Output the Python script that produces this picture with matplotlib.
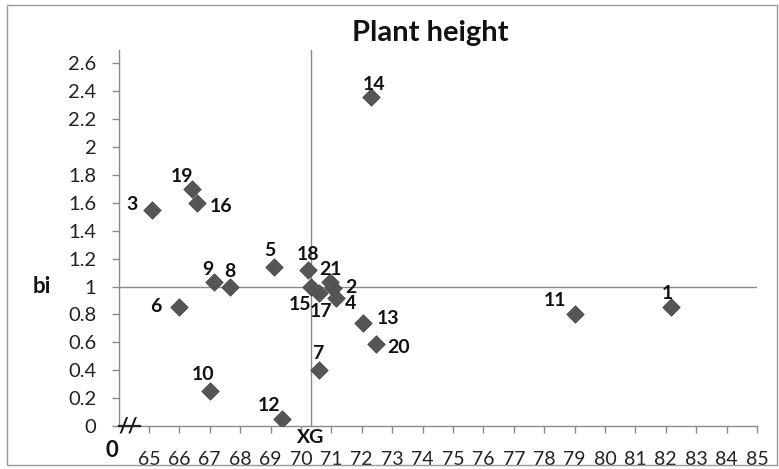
import matplotlib
matplotlib.use("Agg")
import matplotlib.pyplot as plt
from matplotlib.patches import Rectangle

plt.rcParams['font.family'] = ['Lato', 'DejaVu Sans']

# ---- data ----
genotypes = ["1", "2", "3", "4", "5", "6", "7", "8", "9", "10", "11",
             "12", "13", "14", "15", "16", "17", "18", "19", "20", "21"]
mean_height = [82.18, 71.05, 65.10, 71.16, 69.12, 66.00, 70.60, 67.66, 67.13, 67.00, 79.00,
               69.37, 72.04, 72.31, 70.32, 66.59, 70.60, 70.23, 66.42, 72.48, 70.94]
bi_values = [0.85, 0.99, 1.55, 0.92, 1.14, 0.85, 0.40, 1.00, 1.03, 0.25, 0.80,
             0.05, 0.74, 2.36, 1.00, 1.60, 0.95, 1.12, 1.70, 0.59, 1.03]
grand_mean = 70.33
bi_ref = 1.0
x_ticks = list(range(65, 86))
y_ticks = [0, 0.2, 0.4, 0.6, 0.8, 1, 1.2, 1.4, 1.6, 1.8, 2, 2.2, 2.4, 2.6]
y_tick_labels = ["0", "0.2", "0.4", "0.6", "0.8", "1", "1.2", "1.4", "1.6",
                 "1.8", "2", "2.2", "2.4", "2.6"]

# label offsets (points) relative to each marker
label_offsets = {
    "1": (-3, 10), "2": (9, 0), "3": (-10, 4), "4": (6, -4), "5": (-3, 12),
    "6": (-13, 1), "7": (-1, 12), "8": (0, 11), "9": (-4, 9), "10": (-5, 12),
    "11": (-14, 10), "12": (-9, 10), "13": (10, 3), "14": (2, 9), "15": (-8, -13),
    "16": (9, -3), "17": (1, -13), "18": (0, 11), "19": (-7, 9), "20": (8, -3),
    "21": (1, 9),
}
label_ha = {"2": "left", "4": "left", "13": "left", "16": "left", "20": "left",
            "3": "right", "6": "right"}

W, H = 779, 469
fig = plt.figure(figsize=(W / 100, H / 100), dpi=100)
ax = fig.add_axes([118.5 / W, 1 - 426 / H, (757 - 118.5) / W, (426 - 50) / H])

gray = "#8a8a8a"
ax.set_xlim(64, 85)
ax.set_ylim(0, (426 - 50) / 139.5)

ax.axvline(grand_mean, color=gray, lw=1.0, zorder=1)
ax.axhline(bi_ref, color=gray, lw=1.0, zorder=1)

ax.scatter(mean_height, bi_values, marker="D", s=80, color="#555555",
           edgecolors="#4a4a4a", linewidths=0.5, zorder=3)

for g, xv, yv in zip(genotypes, mean_height, bi_values):
    dx, dy = label_offsets[g]
    ax.annotate(g, (xv, yv), xytext=(dx, dy), textcoords="offset points",
                ha=label_ha.get(g, "center"), va="center",
                fontsize=14, fontweight="bold", color="#111111", zorder=4)

for s in ["top", "right"]:
    ax.spines[s].set_visible(False)
for s in ["left", "bottom"]:
    ax.spines[s].set_color(gray)
    ax.spines[s].set_linewidth(1.0)

ax.set_xticks(x_ticks)
ax.set_xticklabels([str(t) for t in x_ticks])
ax.set_yticks(y_ticks)
ax.set_yticklabels(y_tick_labels)
ax.tick_params(axis="x", direction="out", length=5, width=1, color=gray,
               labelsize=14, pad=13, labelcolor="#222222")
ax.tick_params(axis="y", direction="out", length=5, width=1, color=gray,
               labelsize=14.5, pad=11, labelcolor="#222222")

# axis annotations
ax.text(grand_mean, -0.025, "XG", ha="center", va="top", fontsize=14,
        fontweight="bold", color="#111111", transform=ax.transData, clip_on=False)
ax.plot([64.0, 64.7], [0, 0], color="#222222", lw=1.6, clip_on=False, zorder=4)
ax.text(64.31, 0.0, "//", ha="center", va="center", fontsize=15,
        fontweight="bold", color="#111111", clip_on=False)
fig.text(112 / W, 1 - 450 / H, "0", ha="center", va="center", fontsize=16,
         fontweight="bold", color="#111111")
fig.text(42 / W, 1 - 286 / H, "bi", ha="center", va="center", fontsize=16,
         fontweight="bold", color="#111111")
fig.text(430 / W, 1 - 33 / H, "Plant height", ha="center", va="center",
         fontsize=21, fontweight="bold", color="#111111")

fig.patches.append(Rectangle((7 / W, 1 - 465 / H), 770 / W, 460 / H,
                             transform=fig.transFigure, fill=False,
                             edgecolor="#999999", lw=1.0))

fig.savefig("out.png", dpi=100)
